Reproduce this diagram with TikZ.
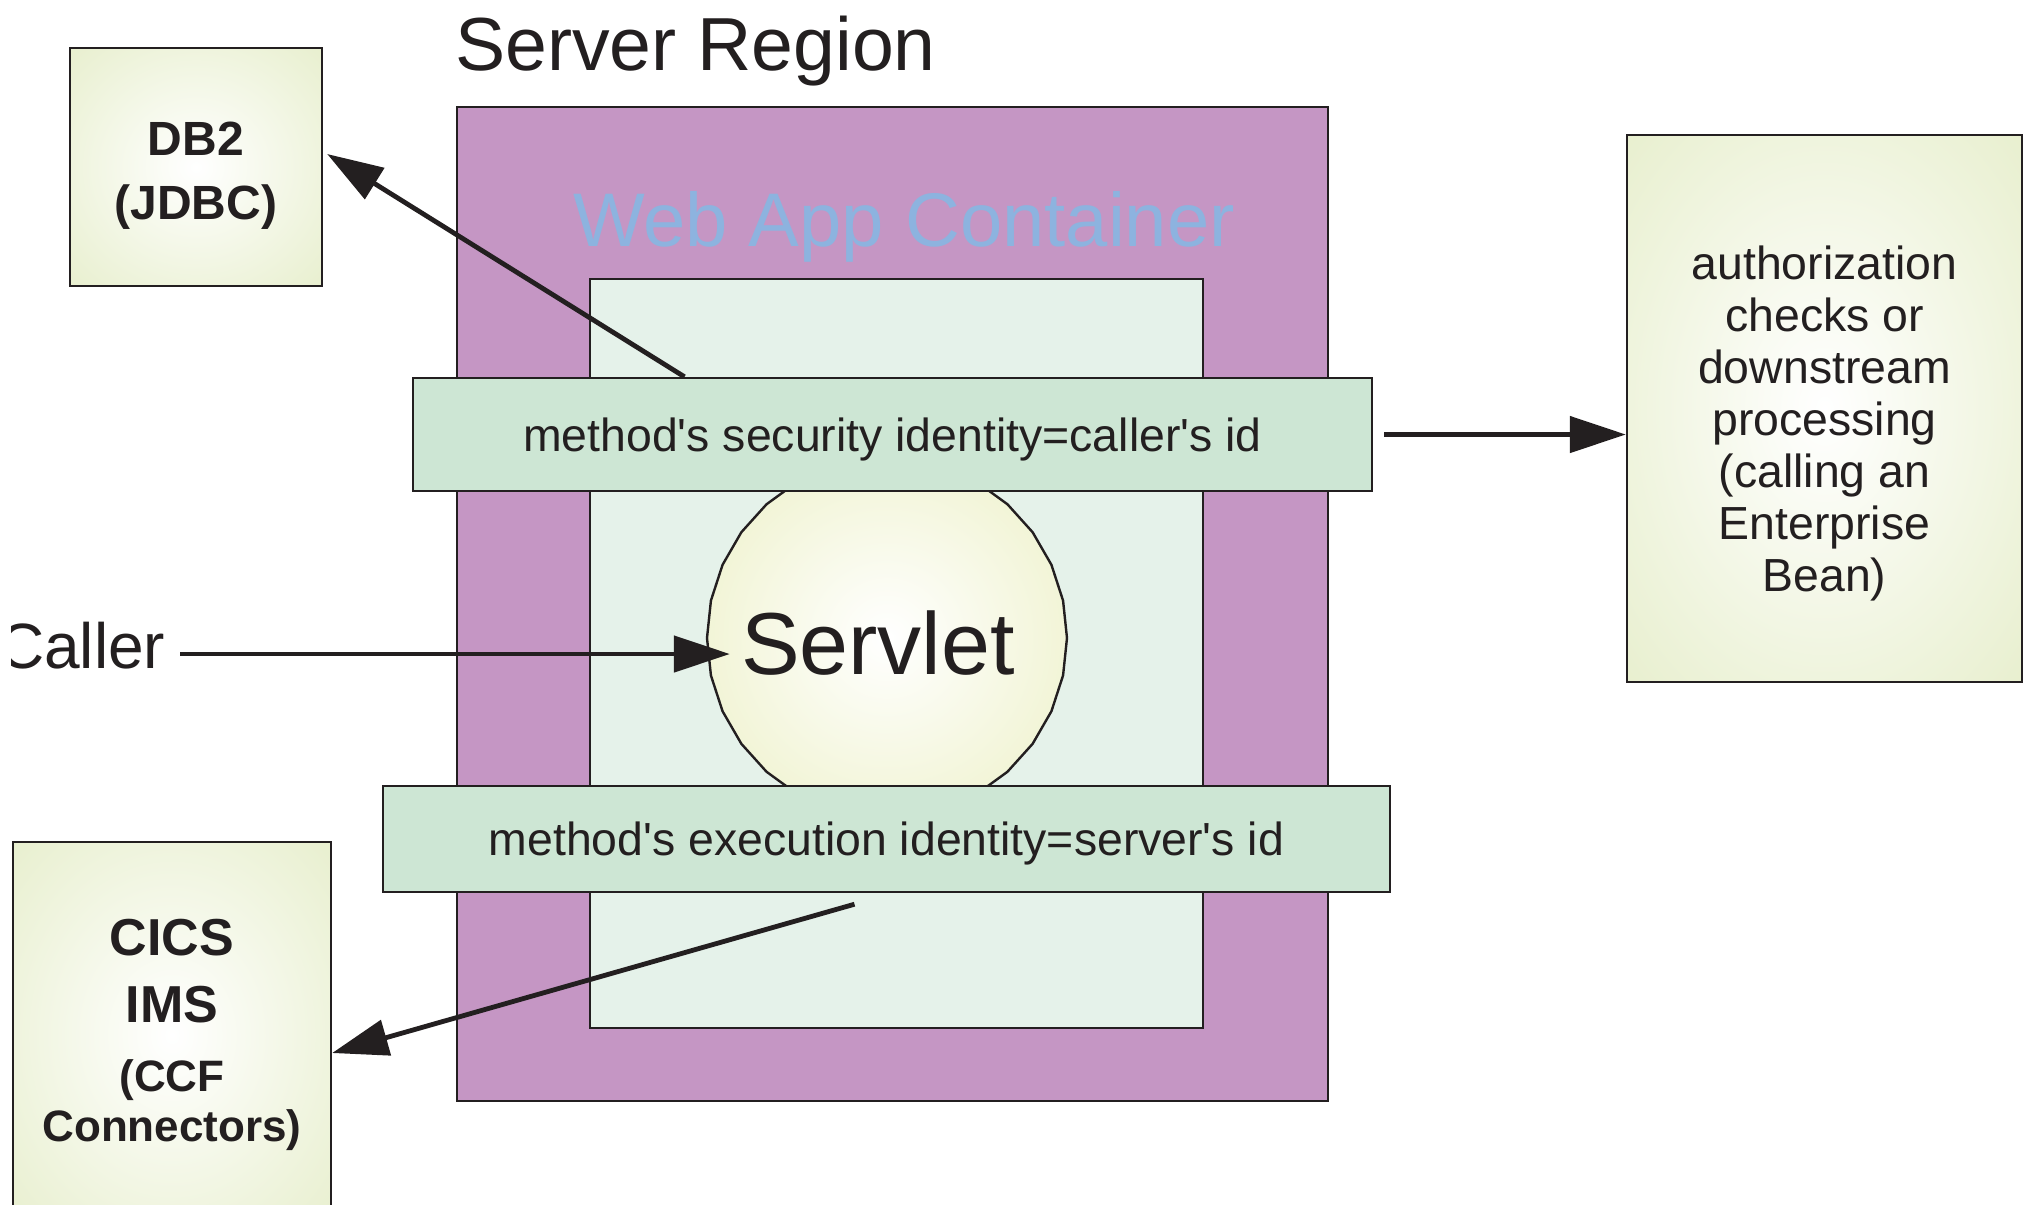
\documentclass[tikz,border=0pt]{standalone}
\usepackage{fontspec}
\setmainfont{Liberation Sans}
\usetikzlibrary{positioning, arrows.meta, shapes.geometric}

\definecolor{regionpurple}{HTML}{C596C4}
\definecolor{containergreen}{HTML}{E5F2EA}
\definecolor{bandgreen}{HTML}{CDE6D4}
\definecolor{labelblue}{HTML}{8DB3DF}
\definecolor{extgreen}{HTML}{E2EBC2}
\definecolor{servletyellow}{HTML}{E6EBB2}
\definecolor{edge}{HTML}{231F20}

\pgfdeclareradialshading{extglow}{\pgfpoint{0bp}{0bp}}{%
  color(0bp)=(white); color(45bp)=(extgreen); color(50bp)=(extgreen)}
\pgfdeclareradialshading{servletglow}{\pgfpoint{0bp}{0bp}}{%
  color(0bp)=(white); color(48bp)=(servletyellow); color(50bp)=(servletyellow)}

\begin{document}
\begin{tikzpicture}[
  x=0.25pt, y=-0.25pt,
  font=\fontsize{11.6}{13}\selectfont,
  text=edge,
  >={Triangle[length=14pt, width=9pt]},
  % --- node styles ---
  box/.style={
    draw=edge, line width=0.6pt, inner sep=0pt, align=center
  },
  ext/.style={
    box, shade, shading=extglow
  },
  band/.style={
    box, fill=bandgreen, text depth=0pt
  },
  arr/.style={->, line width=1.2pt, draw=edge},
]

\useasboundingbox (0,0) rectangle (2028,1204);

% ==============================
% SERVER REGION
% ==============================

\node[box, fill=regionpurple, minimum width=217.75pt, minimum height=248.5pt]
  (region) at (892.5,604) {};
\node[anchor=base west, font=\fontsize{18.8}{22}\selectfont]
  (regiontitle) at (441,70) {Server Region};

\node[anchor=base, font=\fontsize{19}{22}\selectfont, text=labelblue]
  (containertitle) at (904,246) {Web App Container};
\node[box, fill=containergreen, minimum width=153.25pt, minimum height=187.25pt]
  (container) at (896.5,653.5) {};

\node[box, regular polygon, regular polygon sides=30, minimum size=90pt,
  shade, shading=servletglow,
  label={[xshift=-2.25pt, yshift=-1.3pt, font=\fontsize{22}{26}\selectfont]center:Servlet}]
  (servlet) at (887,638) {};

% identity bands
\node[band, minimum width=239.75pt, minimum height=28.25pt]
  (secid) at (892.5,434.5)
  {method\textquotesingle s security identity=caller\textquotesingle s id};
\node[band, minimum width=251.75pt, minimum height=26.5pt]
  (execid) at (886.5,839)
  {method\textquotesingle s execution identity=server\textquotesingle s id};

% ==============================
% OUTSIDE THE REGION
% ==============================

\node[ext, minimum width=63pt, minimum height=59.5pt, text height=28.9pt,
  font=\fontsize{12}{16}\selectfont\bfseries]
  (db2) at (196,167) {DB2\\(JDBC)};

\node[ext, minimum width=98.75pt, minimum height=136.75pt, text height=94.1pt]
  (auth) at (1824.5,408.5)
  {authorization\\checks or\\downstream\\processing\\(calling an\\Enterprise\\Bean)};

\node[ext, minimum width=79.5pt, minimum height=96.5pt,
  font=\bfseries\fontsize{11}{12.6}\selectfont]
  (cics) at (172,1035)
  {\fontsize{13}{15}\selectfont CICS\\[4.2pt]
   \fontsize{13}{15}\selectfont IMS\\[4.5pt]
   (CCF\\Connectors)};

\begin{scope}
  \clip (11,560) rectangle (400,720);
  \node[anchor=east, inner sep=0pt, font=\fontsize{16}{19}\selectfont]
    (caller) at (166,646) {Caller};
\end{scope}

% ==============================
% ARROWS
% ==============================

\draw[arr] ([xshift=3.5pt, yshift=-2pt]caller.east)
  -- ([xshift=6pt, yshift=-2pt]caller.east -| servlet.west);
\draw[arr] ([xshift=-52pt]secid.north) -- ([xshift=1pt, yshift=3.25pt]db2.east);
\draw[arr] ([xshift=2.75pt]secid.east) -- (secid.east -| auth.west);
\draw[arr] ([xshift=-8pt, yshift=-2.75pt]execid.south) -- ([yshift=-4.5pt]cics.east);

\end{tikzpicture}
\end{document}
